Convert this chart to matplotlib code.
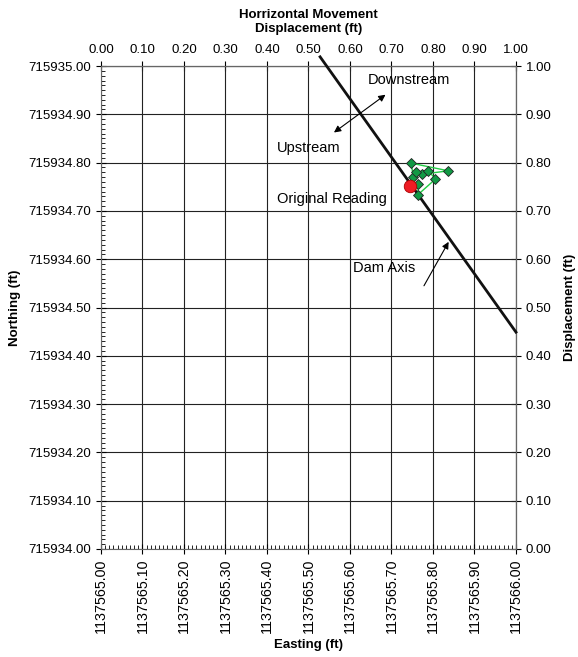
import matplotlib.pyplot as plt
from matplotlib.ticker import MultipleLocator, FormatStrFormatter

plt.rcParams['font.family'] = ['Liberation Sans', 'DejaVu Sans']

# base coordinates of the monitoring point
E0 = 1137565.00
N0 = 715934.00

# survey readings (displacement from base, ft)
reading_e = [0.753, 0.747, 0.837, 0.774, 0.758, 0.789, 0.806, 0.763, 0.765]
reading_n = [0.771, 0.799, 0.783, 0.776, 0.781, 0.783, 0.766, 0.733, 0.755]
orig_e = [0.745]
orig_n = [0.752]

# dam axis end points
dam_e = [0.528, 1.0]
dam_n = [1.019, 0.449]

fig = plt.figure(figsize=(5.78, 6.57), dpi=100)
ax = fig.add_axes([0.1747, 0.1644, 0.718, 0.7351])

ax.set_xlim(E0, E0 + 1.0)
ax.set_ylim(N0, N0 + 1.0)
ax.xaxis.set_major_locator(MultipleLocator(0.1))
ax.yaxis.set_major_locator(MultipleLocator(0.1))
ax.xaxis.set_minor_locator(MultipleLocator(0.01))
ax.yaxis.set_minor_locator(MultipleLocator(0.01))
ax.xaxis.set_major_formatter(FormatStrFormatter('%.2f'))
ax.yaxis.set_major_formatter(FormatStrFormatter('%.2f'))
ax.tick_params(axis='both', which='major', direction='inout', length=7, width=0.8, labelsize=9.5)
ax.tick_params(axis='x', which='major', labelsize=10.3, labelrotation=90)
ax.tick_params(axis='both', which='minor', direction='in', length=3, width=0.6)
ax.grid(True, which='major', color='#222222', lw=0.8)
for s in ax.spines.values():
    s.set_color('#666666')
    s.set_linewidth(0.8)

ax.set_xlabel('Easting (ft)', fontsize=9.5, fontweight='bold', labelpad=4)
ax.set_ylabel('Northing (ft)', fontsize=9.5, fontweight='bold', labelpad=5)

# dam axis
ax.plot([E0 + e for e in dam_e], [N0 + n for n in dam_n], color='#111111', lw=2,
        clip_on=False, zorder=3)

# readings
ax.plot([E0 + e for e in reading_e], [N0 + n for n in reading_n], color='#22cc44', lw=1,
        marker='D', markersize=5.5, markerfacecolor='#119944', markeredgecolor='#222222',
        markeredgewidth=0.6, zorder=4)
ax.plot([E0 + e for e in orig_e], [N0 + n for n in orig_n], 'o', markersize=9,
        markerfacecolor='#ee1c24', markeredgecolor='#aa0000', markeredgewidth=0.6, zorder=5)

# annotations
ax.annotate('', xy=(E0 + 0.691, N0 + 0.944), xytext=(E0 + 0.556, N0 + 0.859),
            arrowprops=dict(arrowstyle='<|-|>', color='black', lw=0.8, mutation_scale=10))
ax.annotate('', xy=(E0 + 0.841, N0 + 0.641), xytext=(E0 + 0.775, N0 + 0.54),
            arrowprops=dict(arrowstyle='-|>', color='black', lw=0.8, mutation_scale=10))
ax.text(E0 + 0.643, N0 + 0.971, 'Downstream', fontsize=10.5, va='center')
ax.text(E0 + 0.424, N0 + 0.830, 'Upstream', fontsize=10.5, va='center')
ax.text(E0 + 0.424, N0 + 0.725, 'Original Reading', fontsize=10.5, va='center')
ax.text(E0 + 0.607, N0 + 0.582, 'Dam Axis', fontsize=10.5, va='center')

# displacement axes
top = ax.secondary_xaxis('top', functions=(lambda e: e - E0, lambda d: d + E0))
top.xaxis.set_major_locator(MultipleLocator(0.1))
top.xaxis.set_major_formatter(FormatStrFormatter('%.2f'))
top.tick_params(direction='inout', length=7, width=0.8, labelsize=9.5)
top.set_xlabel('Horrizontal Movement\nDisplacement (ft)', fontsize=9.5, fontweight='bold',
               labelpad=9, linespacing=1.25)

right = ax.secondary_yaxis('right', functions=(lambda n: n - N0, lambda d: d + N0))
right.yaxis.set_major_locator(MultipleLocator(0.1))
right.yaxis.set_major_formatter(FormatStrFormatter('%.2f'))
right.tick_params(direction='inout', length=7, width=0.8, labelsize=9.5)
right.set_ylabel('Displacement (ft)', fontsize=9.5, fontweight='bold', labelpad=9)

fig.savefig('out.png', dpi=100)
